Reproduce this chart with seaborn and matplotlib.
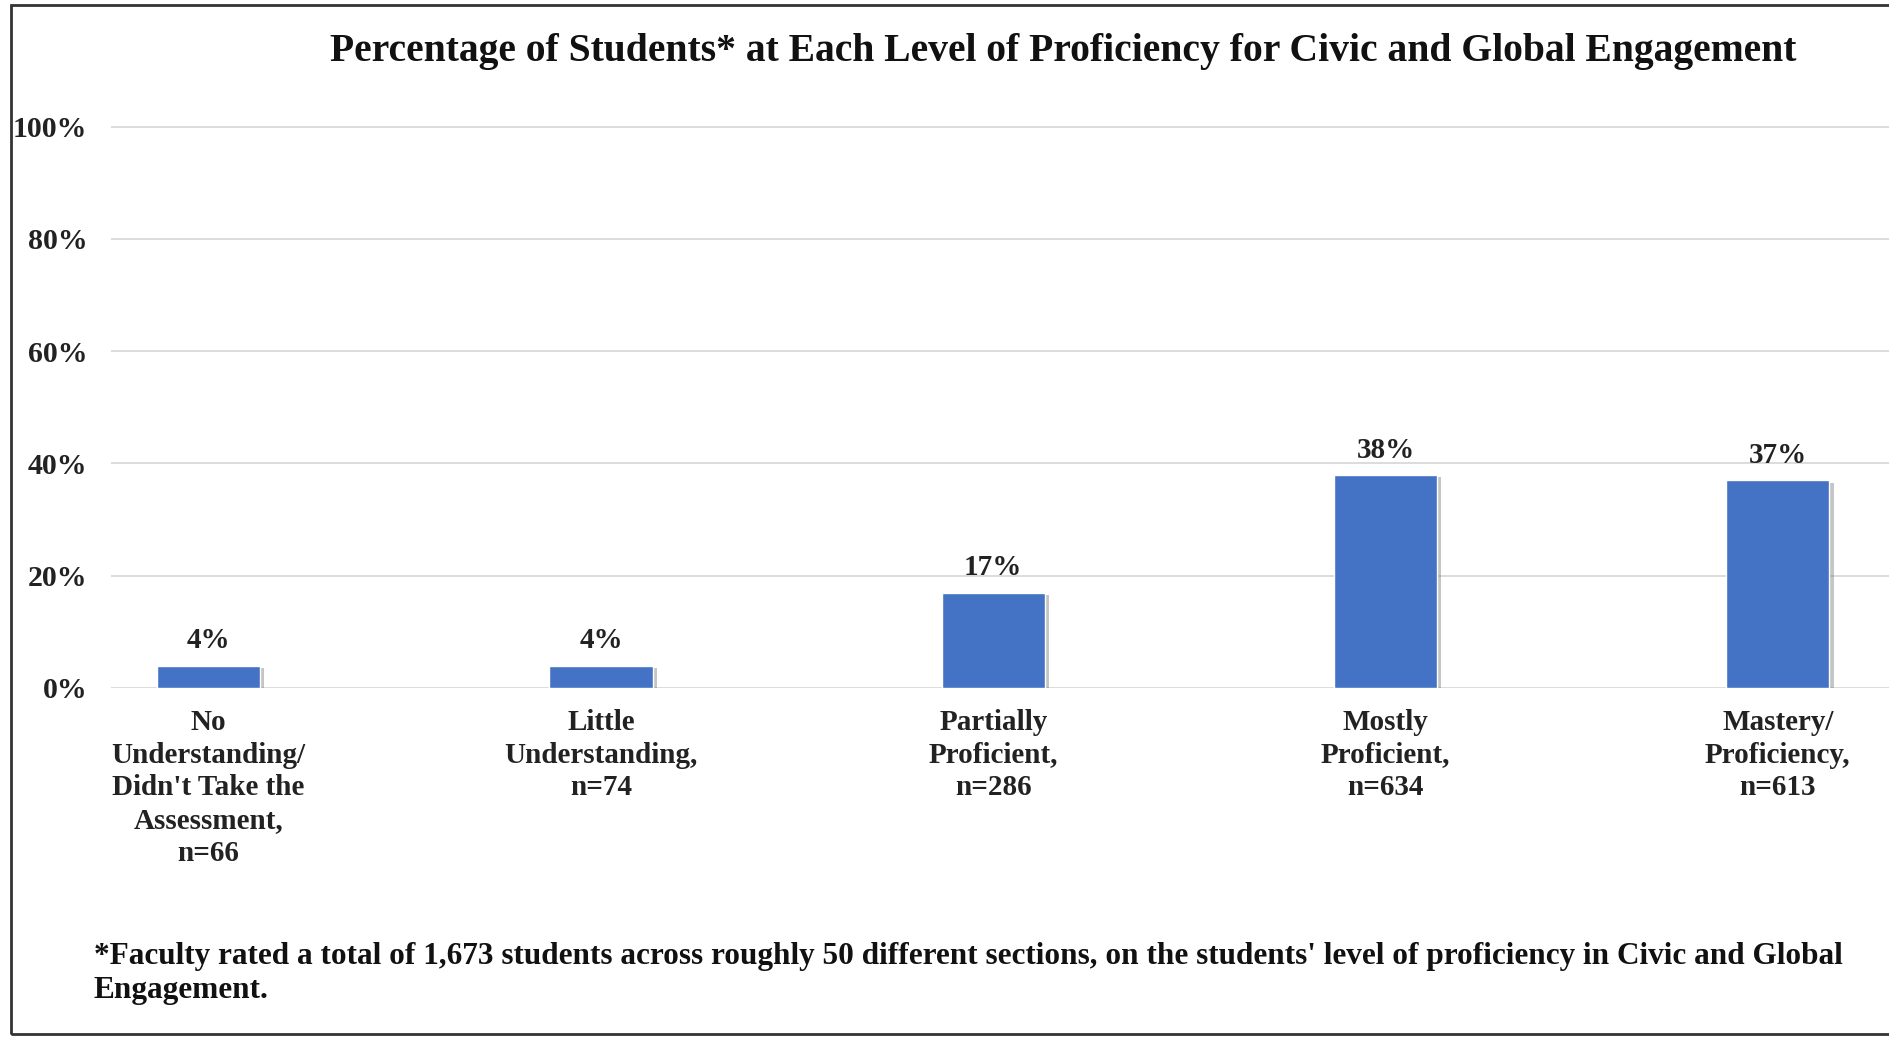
import matplotlib
matplotlib.use("Agg")
import matplotlib.pyplot as plt
import matplotlib.patheffects as pe
from matplotlib.patches import Rectangle
import seaborn as sns
import pandas as pd

# Proficiency levels, their student counts and the share of students at each level
levels = [
    "No\nUnderstanding/\nDidn't Take the\nAssessment,\nn=66",
    "Little\nUnderstanding,\nn=74",
    "Partially\nProficient,\nn=286",
    "Mostly\nProficient,\nn=634",
    "Mastery/\nProficiency,\nn=613",
]
percentages = [4, 4, 17, 38, 37]
y_ticks = [0, 20, 40, 60, 80, 100]

title_text = "Percentage of Students* at Each Level of Proficiency for Civic and Global Engagement"
footnote_text = ("*Faculty rated a total of 1,673 students across roughly 50 different sections, "
                 "on the students' level of proficiency in Civic and Global\nEngagement.")

df = pd.DataFrame({"level": levels, "pct": percentages})

sns.set_style("white")
plt.rcParams["font.family"] = ["Liberation Serif", "DejaVu Serif"]
plt.rcParams["font.weight"] = "bold"

W, H = 1890, 1037
fig = plt.figure(figsize=(W / 100, H / 100), dpi=100)
fig.patch.set_facecolor("white")

ax_left = 111 / W
ax_bottom = 1 - 688 / H
ax_top = 1 - (688 - (688 - 126.6) * 1.05) / H
ax = fig.add_axes([ax_left, ax_bottom, 1 - ax_left, ax_top - ax_bottom])

sns.barplot(data=df, x="level", y="pct", color="#4472C4", saturation=1,
            width=0.263, ax=ax, zorder=3)

for bar in ax.patches:
    bar.set_path_effects([pe.SimplePatchShadow(offset=(3, -2), shadow_rgbFace="#6e6e6e", alpha=0.4),
                          pe.Normal()])

ax.bar_label(ax.containers[0], labels=[f"{v}%" for v in percentages],
             padding=8, fontsize=21, fontweight="bold", color="#222222")

ax.set_ylim(0, 105)
ax.set_xlim(-0.249, 4.286)
ax.set_yticks(y_ticks)
ax.set_yticklabels([f"{v}%" for v in y_ticks], fontsize=21.5, fontweight="bold", color="#222222")
ax.set_xticks(range(len(levels)))
ax.set_xticklabels(levels, fontsize=21, fontweight="bold", color="#222222", linespacing=1.27)
ax.tick_params(axis="both", length=0)
ax.tick_params(axis="y", pad=17)
ax.tick_params(axis="x", pad=15)
ax.set_xlabel("")
ax.set_ylabel("")
for s in ax.spines.values():
    s.set_visible(False)
ax.yaxis.grid(True, color="#d9d9d9", linewidth=1.3, zorder=0)
ax.set_axisbelow(True)

fig.text(1063 / W, 1 - 52 / H, title_text, ha="center", va="center",
         fontsize=28.5, fontweight="bold", color="#111111")
fig.text(94 / W, 1 - 942 / H, footnote_text, ha="left", va="top",
         fontsize=22.5, fontweight="bold", color="#111111", linespacing=1.22)

# Frame around the whole figure
fig.patches.append(Rectangle((11 / W, 1 - 1034 / H), 1.2, (1034 - 5) / H,
                             transform=fig.transFigure, fill=False,
                             edgecolor="#333333", linewidth=2))

fig.savefig("out.png", dpi=100, facecolor="white")
